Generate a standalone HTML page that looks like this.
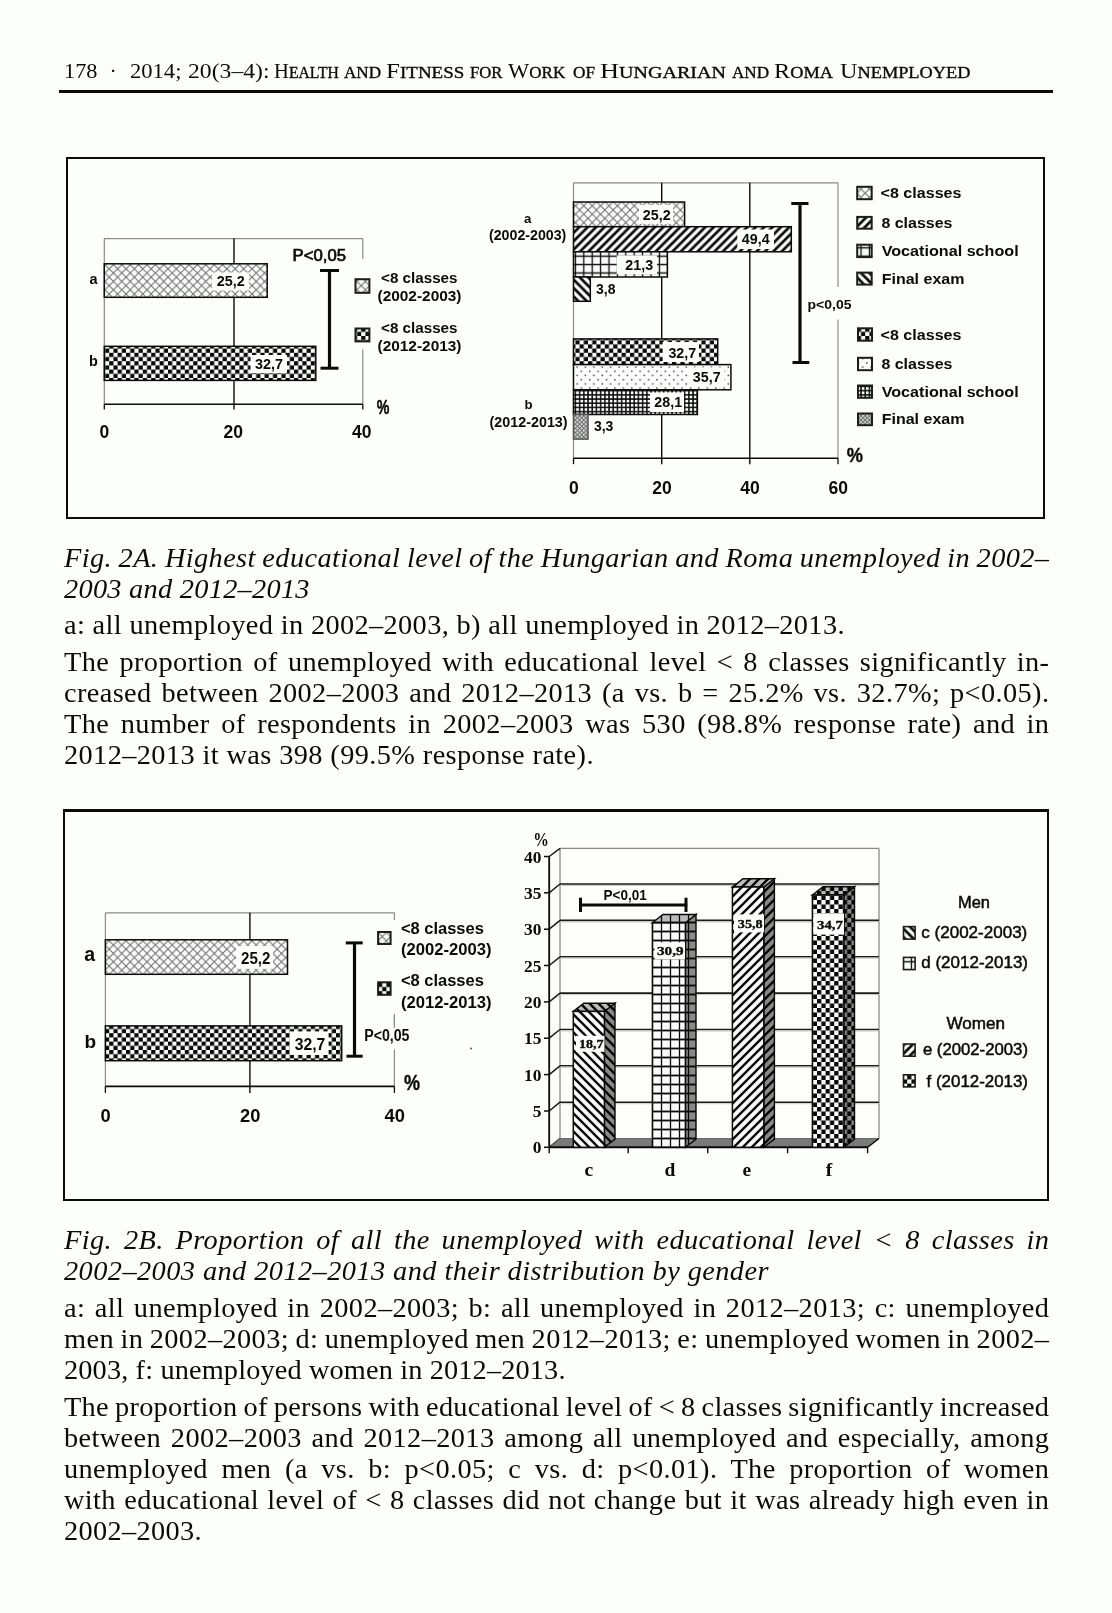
<!DOCTYPE html>
<html lang="en"><head><meta charset="utf-8"><title>Health and Fitness for Work of Hungarian and Roma Unemployed</title>
<style>
html,body{margin:0;padding:0;background:#fdfffc;}
body{width:1112px;height:1613px;position:relative;overflow:hidden;font-family:"Liberation Serif","Times New Roman",serif;color:#0a0a0a;}
.ln{position:absolute;left:63.5px;height:32px;line-height:32px;font-size:27px;white-space:nowrap;letter-spacing:0.36px;margin:0;transform:scaleX(1.05);transform-origin:0 0;}
.j{width:985.0px;white-space:normal;text-align:justify;text-align-last:justify;letter-spacing:0.36px;}
.i{font-style:italic;}
.hd{position:absolute;left:0;top:58px;height:26px;line-height:26px;font-size:21.6px;white-space:nowrap;width:1112px}
.hd span{position:absolute;top:0;transform-origin:0 0;white-space:pre}
.hd small{font-size:16.4px;-webkit-text-stroke:0.35px #0a0a0a}
.rule{position:absolute;left:59px;top:90px;width:994px;height:3px;background:#0a0a0a}
.fr{position:absolute;box-sizing:border-box;border:2px solid #0a0a0a}
svg{position:absolute;left:0;top:0;will-change:transform}
.ln,.hd{will-change:transform}
svg text{font-family:"Liberation Sans",Arial,sans-serif;font-weight:bold;fill:#0a0a0a}
svg text.s{font-family:"Liberation Serif","Times New Roman",serif;font-weight:bold}
svg text.r{font-weight:normal;stroke:#0a0a0a;stroke-width:0.5px}

</style></head><body>
<div class="hd"><span style="left:64.3px;transform:scaleX(1.031)">178</span> <span style="left:109.5px;transform:scaleX(1.000)">·</span> <span style="left:129.5px;transform:scaleX(1.045)">2014;</span> <span style="left:188.0px;transform:scaleX(1.096)">20(3–4):</span> <span style="left:273.5px;transform:scaleX(0.955)">H<small>EALTH</small></span> <span style="left:344.0px;transform:scaleX(1.042)"><small>AND</small></span> <span style="left:385.8px;transform:scaleX(1.160)">F<small>ITNESS</small></span> <span style="left:469.9px;transform:scaleX(1.019)"><small>FOR</small></span> <span style="left:508.4px;transform:scaleX(1.040)">W<small>ORK</small></span> <span style="left:572.7px;transform:scaleX(1.055)"><small>OF</small></span> <span style="left:599.7px;transform:scaleX(1.223)">H<small>UNGARIAN</small></span> <span style="left:732.3px;transform:scaleX(1.042)"><small>AND</small></span> <span style="left:774.1px;transform:scaleX(1.120)">R<small>OMA</small></span> <span style="left:840.2px;transform:scaleX(1.118)">U<small>NEMPLOYED</small></span></div>
<div class="rule"></div>
<div class="fr" style="left:66px;top:157px;width:979px;height:361.7px"></div>
<div class="fr" style="left:63px;top:809px;width:986px;height:392px;border-top-width:3px"></div>
<p class="ln i" style="top:541.89px;letter-spacing:0.360px;word-spacing:-0.809px;">Fig. 2A. Highest educational level of the Hungarian and Roma unemployed in 2002–</p>
<p class="ln i" style="top:572.89px;letter-spacing:0.254px;">2003 and 2012–2013</p>
<p class="ln" style="top:608.89px;letter-spacing:0.342px;">a: all unemployed in 2002–2003, b) all unemployed in 2012–2013.</p>
<p class="ln" style="top:645.89px;letter-spacing:0.360px;word-spacing:2.685px;">The proportion of unemployed with educational level &lt; 8 classes significantly in-</p>
<p class="ln" style="top:676.89px;letter-spacing:0.360px;word-spacing:2.275px;">creased between 2002–2003 and 2012–2013 (a vs. b = 25.2% vs. 32.7%; p&lt;0.05).</p>
<p class="ln" style="top:707.89px;letter-spacing:0.360px;word-spacing:3.908px;">The number of respondents in 2002–2003 was 530 (98.8% response rate) and in</p>
<p class="ln" style="top:738.89px;letter-spacing:0.366px;">2012–2013 it was 398 (99.5% response rate).</p>
<p class="ln i" style="top:1223.89px;letter-spacing:0.360px;word-spacing:4.244px;">Fig. 2B. Proportion of all the unemployed with educational level &lt; 8 classes in</p>
<p class="ln i" style="top:1254.89px;letter-spacing:0.404px;">2002–2003 and 2012–2013 and their distribution by gender</p>
<p class="ln" style="top:1291.69px;letter-spacing:0.360px;word-spacing:2.010px;">a: all unemployed in 2002–2003; b: all unemployed in 2012–2013; c: unemployed</p>
<p class="ln" style="top:1322.79px;letter-spacing:0.360px;word-spacing:-0.926px;">men in 2002–2003; d: unemployed men 2012–2013; e: unemployed women in 2002–</p>
<p class="ln" style="top:1353.59px;letter-spacing:0.116px;">2003, f: unemployed women in 2012–2013.</p>
<p class="ln" style="top:1390.79px;letter-spacing:0.262px;word-spacing:-1.200px;">The proportion of persons with educational level of &lt; 8 classes significantly increased</p>
<p class="ln" style="top:1421.79px;letter-spacing:0.360px;word-spacing:2.196px;">between 2002–2003 and 2012–2013 among all unemployed and especially, among</p>
<p class="ln" style="top:1452.69px;letter-spacing:0.360px;word-spacing:5.767px;">unemployed men (a vs. b: p&lt;0.05; c vs. d: p&lt;0.01). The proportion of women</p>
<p class="ln" style="top:1483.69px;letter-spacing:0.360px;word-spacing:0.796px;">with educational level of &lt; 8 classes did not change but it was already high even in</p>
<p class="ln" style="top:1514.59px;letter-spacing:0.300px;">2002–2003.</p>
<svg width="1112" height="1613" viewBox="0 0 1112 1613">
<defs>
<pattern id="xh" width="8.4" height="8.4" patternUnits="userSpaceOnUse"><rect width="8.4" height="8.4" fill="#fbfbfb"/><path d="M0,0L8.4,8.4M8.4,0L0,8.4" stroke="#6a6a6a" stroke-width="1.0" fill="none"/></pattern>
<pattern id="ck" width="8.4" height="8.4" patternUnits="userSpaceOnUse"><rect width="8.4" height="8.4" fill="#fafafa"/><rect width="4.2" height="4.2" fill="#0a0a0a"/><rect x="4.2" y="4.2" width="4.2" height="4.2" fill="#0a0a0a"/></pattern>
<pattern id="up" width="8.4" height="8.4" patternUnits="userSpaceOnUse"><rect width="8.4" height="8.4" fill="#fafafa"/><path d="M-4.2,4.2L4.2,-4.2M0,8.4L8.4,0M4.2,12.600000000000001L12.600000000000001,4.2" stroke="#0a0a0a" stroke-width="2.7" fill="none"/></pattern>
<pattern id="dn" width="8.4" height="8.4" patternUnits="userSpaceOnUse"><rect width="8.4" height="8.4" fill="#fafafa"/><path d="M-4.2,4.2L4.2,12.600000000000001M0,0L8.4,8.4M4.2,-4.2L12.600000000000001,4.2" stroke="#0a0a0a" stroke-width="2.7" fill="none"/></pattern>
<pattern id="gr" width="8.4" height="8.4" patternUnits="userSpaceOnUse"><rect width="8.4" height="8.4" fill="#fafafa"/><path d="M0,4.2H8.4M4.2,0V8.4" stroke="#0a0a0a" stroke-width="1.3" fill="none"/></pattern>
<pattern id="dt" width="8.4" height="8.4" patternUnits="userSpaceOnUse"><rect width="8.4" height="8.4" fill="#fcfcfc"/><rect x="1" y="1" width="1.4" height="1.4" fill="#333"/><rect x="5.2" y="5.2" width="1.4" height="1.4" fill="#333"/></pattern>
<pattern id="sg" width="4.2" height="4.2" patternUnits="userSpaceOnUse"><rect width="4.2" height="4.2" fill="#0a0a0a"/><rect x="0.8" y="0.8" width="2.7" height="2.7" fill="#fafafa"/></pattern>
<pattern id="fx" width="4.2" height="4.2" patternUnits="userSpaceOnUse"><rect width="4.2" height="4.2" fill="#e4e4e4"/><path d="M0,0L4.2,4.2M4.2,0L0,4.2" stroke="#606060" stroke-width="1.0" fill="none"/></pattern>
<pattern id="ck4" width="8.6" height="9" patternUnits="userSpaceOnUse"><rect width="8.6" height="9" fill="#fafafa"/><rect width="4.3" height="4.5" fill="#0a0a0a"/><rect x="4.3" y="4.5" width="4.3" height="4.5" fill="#0a0a0a"/></pattern>
<pattern id="up4" width="9.0" height="9.0" patternUnits="userSpaceOnUse"><rect width="9.0" height="9.0" fill="#fafafa"/><path d="M-4.5,4.5L4.5,-4.5M0,9.0L9.0,0M4.5,13.5L13.5,4.5" stroke="#0a0a0a" stroke-width="2.4" fill="none"/></pattern>
<pattern id="dn4" width="9.0" height="9.0" patternUnits="userSpaceOnUse"><rect width="9.0" height="9.0" fill="#fafafa"/><path d="M-4.5,4.5L4.5,13.5M0,0L9.0,9.0M4.5,-4.5L13.5,4.5" stroke="#0a0a0a" stroke-width="2.4" fill="none"/></pattern>
<pattern id="gr4" width="9.0" height="9.0" patternUnits="userSpaceOnUse"><rect width="9.0" height="9.0" fill="#fafafa"/><path d="M0,4.5H9.0" stroke="#0a0a0a" stroke-width="1.8" fill="none"/><path d="M4.5,0V9.0" stroke="#0a0a0a" stroke-width="1.3" fill="none"/></pattern>
</defs>
<path d="M104.3,238.6L362.8,238.6" stroke="#8a8a8a" stroke-width="1.2" fill="none"/>
<path d="M104.3,238.6L104.3,404.3" stroke="#8a8a8a" stroke-width="1.2" fill="none"/>
<path d="M362.8,238.6L362.8,404.3" stroke="#8a8a8a" stroke-width="1.2" fill="none"/>
<path d="M234.0,238.6L234.0,409.6" stroke="#0a0a0a" stroke-width="1.4" fill="none"/>
<path d="M104.3,404.3L362.8,404.3" stroke="#0a0a0a" stroke-width="1.5" fill="none"/>
<path d="M104.3,404.3L104.3,409.6" stroke="#0a0a0a" stroke-width="1.3" fill="none"/>
<path d="M362.8,404.3L362.8,409.6" stroke="#0a0a0a" stroke-width="1.3" fill="none"/>
<rect x="104.3" y="263.8" width="162.9" height="33.5" fill="url(#xh)" stroke="#0a0a0a" stroke-width="1.5"/>
<rect x="104.3" y="346.3" width="211.5" height="34.1" fill="url(#ck)" stroke="#0a0a0a" stroke-width="1.5"/>
<rect x="212.0" y="272.5" width="37.0" height="18.0" fill="#fdfffc"/>
<text x="216.7" y="286.0" font-size="15.3" textLength="28.0" lengthAdjust="spacingAndGlyphs">25,2</text>
<rect x="250.5" y="355.0" width="36.5" height="18.0" fill="#fdfffc"/>
<text x="255.0" y="368.7" font-size="15.3" textLength="28.0" lengthAdjust="spacingAndGlyphs">32,7</text>
<text x="93.5" y="284.2" font-size="14.5" text-anchor="middle">a</text>
<text x="93.5" y="365.8" font-size="14.5" text-anchor="middle">b</text>
<rect x="350.0" y="259.0" width="120.0" height="90.5" fill="#fdfffc"/>
<text x="292.6" y="260.8" font-size="16.3" textLength="53.4" lengthAdjust="spacingAndGlyphs" class="r" style="stroke-width:0.7px">P&lt;0,05</text>
<path d="M329.5,270.5L329.5,368.2" stroke="#0a0a0a" stroke-width="3.2" fill="none"/>
<path d="M320.0,270.5L339.0,270.5" stroke="#0a0a0a" stroke-width="3" fill="none"/>
<path d="M320.5,368.2L338.5,368.2" stroke="#0a0a0a" stroke-width="3" fill="none"/>
<rect x="355.5" y="279.2" width="13.9" height="13.6" fill="url(#xh)" stroke="#1c1c1c" stroke-width="2.0"/>
<rect x="355.5" y="328.5" width="13.9" height="12.9" fill="url(#ck)" stroke="#1c1c1c" stroke-width="2.0"/>
<text x="381.0" y="283.0" font-size="14.2" textLength="76.5" lengthAdjust="spacingAndGlyphs">&lt;8 classes</text>
<text x="377.5" y="301.0" font-size="14.2" textLength="84.0" lengthAdjust="spacingAndGlyphs">(2002-2003)</text>
<text x="381.0" y="333.4" font-size="14.2" textLength="76.5" lengthAdjust="spacingAndGlyphs">&lt;8 classes</text>
<text x="377.5" y="351.4" font-size="14.2" textLength="84.0" lengthAdjust="spacingAndGlyphs">(2012-2013)</text>
<text x="376.8" y="414.0" font-size="19.5" textLength="12.6" lengthAdjust="spacingAndGlyphs" stroke="#0a0a0a" stroke-width="0.5">%</text>
<text x="104.3" y="437.6" font-size="17.5" text-anchor="middle">0</text>
<text x="233.3" y="437.6" font-size="17.5" text-anchor="middle">20</text>
<text x="361.8" y="437.6" font-size="17.5" text-anchor="middle">40</text>
<path d="M573.5,182.8L838.0,182.8" stroke="#8a8a8a" stroke-width="1.2" fill="none"/>
<path d="M573.5,182.8L573.5,458.2" stroke="#8a8a8a" stroke-width="1.2" fill="none"/>
<path d="M838.0,182.8L838.0,458.2" stroke="#8a8a8a" stroke-width="1.2" fill="none"/>
<path d="M661.7,182.8L661.7,464.2" stroke="#0a0a0a" stroke-width="1.4" fill="none"/>
<path d="M749.8,182.8L749.8,464.2" stroke="#0a0a0a" stroke-width="1.4" fill="none"/>
<path d="M573.5,458.2L838.0,458.2" stroke="#0a0a0a" stroke-width="1.5" fill="none"/>
<path d="M573.5,458.2L573.5,464.2" stroke="#0a0a0a" stroke-width="1.3" fill="none"/>
<path d="M838.0,458.2L838.0,464.2" stroke="#0a0a0a" stroke-width="1.3" fill="none"/>
<rect x="573.5" y="202.0" width="111.1" height="24.7" fill="url(#xh)" stroke="#0a0a0a" stroke-width="1.5"/>
<rect x="573.5" y="226.7" width="217.8" height="25.1" fill="url(#up)" stroke="#0a0a0a" stroke-width="1.5"/>
<rect x="573.5" y="251.8" width="93.9" height="25.2" fill="url(#gr)" stroke="#0a0a0a" stroke-width="1.5"/>
<rect x="573.5" y="277.0" width="16.8" height="24.3" fill="url(#dn)" stroke="#0a0a0a" stroke-width="1.5"/>
<rect x="573.5" y="338.9" width="144.2" height="25.7" fill="url(#ck)" stroke="#0a0a0a" stroke-width="1.5"/>
<rect x="573.5" y="364.6" width="157.4" height="25.2" fill="url(#dt)" stroke="#0a0a0a" stroke-width="1.5"/>
<rect x="573.5" y="389.8" width="123.9" height="24.7" fill="url(#sg)" stroke="#0a0a0a" stroke-width="1.5"/>
<rect x="573.5" y="414.5" width="14.5" height="24.6" fill="url(#fx)" stroke="#555" stroke-width="1.5"/>
<rect x="639.0" y="205.0" width="34.0" height="18.8" fill="#fdfffc"/>
<text x="642.8" y="219.5" font-size="15.0" textLength="27.8" lengthAdjust="spacingAndGlyphs">25,2</text>
<rect x="737.3" y="229.5" width="36.7" height="19.5" fill="#fdfffc"/>
<text x="741.8" y="244.0" font-size="15.0" textLength="27.8" lengthAdjust="spacingAndGlyphs">49,4</text>
<rect x="616.7" y="255.4" width="40.3" height="18.9" fill="#fdfffc"/>
<text x="625.3" y="270.4" font-size="15.0" textLength="27.8" lengthAdjust="spacingAndGlyphs">21,3</text>
<text x="596.0" y="293.7" font-size="15.0" textLength="19.5" lengthAdjust="spacingAndGlyphs">3,8</text>
<rect x="662.6" y="342.0" width="36.4" height="20.0" fill="#fdfffc"/>
<text x="668.4" y="357.8" font-size="15.0" textLength="27.8" lengthAdjust="spacingAndGlyphs">32,7</text>
<rect x="688.0" y="367.5" width="36.5" height="19.5" fill="#fdfffc"/>
<text x="692.8" y="381.7" font-size="15.0" textLength="27.8" lengthAdjust="spacingAndGlyphs">35,7</text>
<rect x="650.0" y="392.5" width="34.0" height="19.5" fill="#fdfffc"/>
<text x="654.3" y="406.9" font-size="15.0" textLength="27.8" lengthAdjust="spacingAndGlyphs">28,1</text>
<text x="593.9" y="430.8" font-size="15.0" textLength="19.5" lengthAdjust="spacingAndGlyphs">3,3</text>
<text x="527.7" y="222.7" font-size="13.2" text-anchor="middle">a</text>
<text x="489.0" y="239.8" font-size="14.2" textLength="77.3" lengthAdjust="spacingAndGlyphs">(2002-2003)</text>
<text x="528.6" y="408.9" font-size="13.2" text-anchor="middle">b</text>
<text x="489.6" y="426.5" font-size="14.2" textLength="78.0" lengthAdjust="spacingAndGlyphs">(2012-2013)</text>
<rect x="803.0" y="287.0" width="53.0" height="32.5" fill="#fdfffc"/>
<path d="M800.0,203.5L800.0,362.5" stroke="#0a0a0a" stroke-width="3.2" fill="none"/>
<path d="M791.3,203.5L808.5,203.5" stroke="#0a0a0a" stroke-width="3" fill="none"/>
<path d="M792.5,362.5L809.3,362.5" stroke="#0a0a0a" stroke-width="3" fill="none"/>
<text x="807.5" y="308.5" font-size="13.2" textLength="44.0" lengthAdjust="spacingAndGlyphs">p&lt;0,05</text>
<rect x="857.2" y="186.8" width="14.5" height="12.4" fill="url(#xh)" stroke="#1c1c1c" stroke-width="2.0"/>
<rect x="857.2" y="216.9" width="14.5" height="11.8" fill="url(#up)" stroke="#1c1c1c" stroke-width="2.0"/>
<rect x="857.2" y="244.7" width="14.5" height="12.4" fill="url(#gr)" stroke="#1c1c1c" stroke-width="2.0"/>
<rect x="857.2" y="272.6" width="14.5" height="12.0" fill="url(#dn)" stroke="#1c1c1c" stroke-width="2.0"/>
<rect x="858.0" y="328.3" width="14.0" height="12.4" fill="url(#ck)" stroke="#1c1c1c" stroke-width="2.0"/>
<rect x="858.0" y="357.8" width="14.0" height="12.4" fill="url(#dt)" stroke="#1c1c1c" stroke-width="2.0"/>
<rect x="858.0" y="385.5" width="14.0" height="12.3" fill="url(#sg)" stroke="#1c1c1c" stroke-width="2.0"/>
<rect x="858.0" y="413.5" width="14.0" height="11.7" fill="url(#fx)" stroke="#1c1c1c" stroke-width="2.0"/>
<text x="880.5" y="198.4" font-size="15.3" textLength="81.0" lengthAdjust="spacingAndGlyphs">&lt;8 classes</text>
<text x="881.4" y="228.0" font-size="15.3" textLength="71.0" lengthAdjust="spacingAndGlyphs">8 classes</text>
<text x="881.7" y="256.0" font-size="15.3" textLength="137.0" lengthAdjust="spacingAndGlyphs">Vocational school</text>
<text x="881.7" y="283.8" font-size="15.3" textLength="82.8" lengthAdjust="spacingAndGlyphs">Final exam</text>
<text x="880.5" y="339.5" font-size="15.3" textLength="81.0" lengthAdjust="spacingAndGlyphs">&lt;8 classes</text>
<text x="881.4" y="368.6" font-size="15.3" textLength="71.0" lengthAdjust="spacingAndGlyphs">8 classes</text>
<text x="881.7" y="397.0" font-size="15.3" textLength="137.0" lengthAdjust="spacingAndGlyphs">Vocational school</text>
<text x="881.7" y="424.4" font-size="15.3" textLength="82.8" lengthAdjust="spacingAndGlyphs">Final exam</text>
<text x="846.8" y="462.0" font-size="20.5" textLength="16.2" lengthAdjust="spacingAndGlyphs" stroke="#0a0a0a" stroke-width="0.4">%</text>
<text x="573.8" y="494.0" font-size="17.5" text-anchor="middle">0</text>
<text x="662.0" y="494.0" font-size="17.5" text-anchor="middle">20</text>
<text x="750.1" y="494.0" font-size="17.5" text-anchor="middle">40</text>
<text x="838.3" y="494.0" font-size="17.5" text-anchor="middle">60</text>
<path d="M105.4,912.8L394.4,912.8" stroke="#8a8a8a" stroke-width="1.2" fill="none"/>
<path d="M105.4,912.8L105.4,1086.4" stroke="#8a8a8a" stroke-width="1.2" fill="none"/>
<path d="M394.4,912.8L394.4,1086.4" stroke="#8a8a8a" stroke-width="1.2" fill="none"/>
<path d="M249.9,912.8L249.9,1092.9" stroke="#0a0a0a" stroke-width="1.4" fill="none"/>
<path d="M105.4,1086.4L394.4,1086.4" stroke="#0a0a0a" stroke-width="1.6" fill="none"/>
<path d="M105.4,1086.4L105.4,1092.9" stroke="#0a0a0a" stroke-width="1.3" fill="none"/>
<path d="M394.4,1086.4L394.4,1092.9" stroke="#0a0a0a" stroke-width="1.3" fill="none"/>
<rect x="105.4" y="939.8" width="182.1" height="34.5" fill="url(#xh)" stroke="#0a0a0a" stroke-width="1.5"/>
<rect x="105.4" y="1025.9" width="236.3" height="34.8" fill="url(#ck)" stroke="#0a0a0a" stroke-width="1.5"/>
<rect x="235.9" y="946.0" width="37.1" height="22.8" fill="#fdfffc"/>
<text x="241.0" y="963.5" font-size="16.6" textLength="29.4" lengthAdjust="spacingAndGlyphs">25,2</text>
<rect x="289.7" y="1031.4" width="38.9" height="23.6" fill="#fdfffc"/>
<text x="294.7" y="1049.5" font-size="16.6" textLength="30.6" lengthAdjust="spacingAndGlyphs">32,7</text>
<text x="89.8" y="961.2" font-size="19.5" text-anchor="middle">a</text>
<text x="90.3" y="1048.0" font-size="19" text-anchor="middle">b</text>
<rect x="372.0" y="920.0" width="128.0" height="94.0" fill="#fdfffc"/>
<rect x="360.0" y="1026.0" width="55.0" height="23.5" fill="#fdfffc"/>
<path d="M394.4,1016.0L394.4,1028.0" stroke="#8a8a8a" stroke-width="1.2" fill="none"/>
<path d="M354.5,942.9L354.5,1056.2" stroke="#0a0a0a" stroke-width="3.2" fill="none"/>
<path d="M345.8,942.9L362.7,942.9" stroke="#0a0a0a" stroke-width="3" fill="none"/>
<path d="M346.5,1056.2L362.7,1056.2" stroke="#0a0a0a" stroke-width="3" fill="none"/>
<rect x="378.1" y="932.0" width="12.5" height="12.0" fill="url(#xh)" stroke="#1c1c1c" stroke-width="2.0"/>
<rect x="378.1" y="982.3" width="12.5" height="12.5" fill="url(#ck)" stroke="#1c1c1c" stroke-width="2.0"/>
<text x="400.9" y="933.8" font-size="15.8" textLength="83.0" lengthAdjust="spacingAndGlyphs">&lt;8 classes</text>
<text x="400.9" y="954.8" font-size="15.8" textLength="90.6" lengthAdjust="spacingAndGlyphs">(2002-2003)</text>
<text x="400.9" y="986.0" font-size="15.8" textLength="83.0" lengthAdjust="spacingAndGlyphs">&lt;8 classes</text>
<text x="400.9" y="1007.6" font-size="15.8" textLength="90.6" lengthAdjust="spacingAndGlyphs">(2012-2013)</text>
<text x="364.2" y="1040.6" font-size="15.6" textLength="45.3" lengthAdjust="spacingAndGlyphs">P&lt;0,05</text>
<text x="404.0" y="1090.0" font-size="21.5" textLength="16.0" lengthAdjust="spacingAndGlyphs" stroke="#0a0a0a" stroke-width="0.4">%</text>
<text x="105.7" y="1122.3" font-size="18.3" text-anchor="middle">0</text>
<text x="250.2" y="1122.3" font-size="18.3" text-anchor="middle">20</text>
<text x="394.7" y="1122.3" font-size="18.3" text-anchor="middle">40</text>
<circle cx="471" cy="1048.6" r="1" fill="#555"/>
<rect x="560.0" y="848.4" width="319.0" height="290.1" fill="#fdfdfb"/>
<path d="M560.0,848.4L879.0,848.4" stroke="#8a8a8a" stroke-width="1.3" fill="none"/>
<path d="M879.0,848.4L879.0,1138.5" stroke="#8a8a8a" stroke-width="1.3" fill="none"/>
<path d="M560.0,848.4L560.0,1138.5" stroke="#8a8a8a" stroke-width="1.3" fill="none"/>
<path d="M560.0,1102.2L879.0,1102.2" stroke="#1a1a1a" stroke-width="1.6" fill="none"/>
<path d="M560.0,1103.7L879.0,1103.7" stroke="#c8c8c8" stroke-width="1.0" fill="none"/>
<path d="M560.0,1065.8L879.0,1065.8" stroke="#1a1a1a" stroke-width="1.6" fill="none"/>
<path d="M560.0,1067.3L879.0,1067.3" stroke="#c8c8c8" stroke-width="1.0" fill="none"/>
<path d="M560.0,1029.5L879.0,1029.5" stroke="#1a1a1a" stroke-width="1.6" fill="none"/>
<path d="M560.0,1031.0L879.0,1031.0" stroke="#c8c8c8" stroke-width="1.0" fill="none"/>
<path d="M560.0,993.1L879.0,993.1" stroke="#1a1a1a" stroke-width="1.6" fill="none"/>
<path d="M560.0,994.6L879.0,994.6" stroke="#c8c8c8" stroke-width="1.0" fill="none"/>
<path d="M560.0,956.8L879.0,956.8" stroke="#1a1a1a" stroke-width="1.6" fill="none"/>
<path d="M560.0,958.2L879.0,958.2" stroke="#c8c8c8" stroke-width="1.0" fill="none"/>
<path d="M560.0,920.4L879.0,920.4" stroke="#1a1a1a" stroke-width="1.6" fill="none"/>
<path d="M560.0,921.9L879.0,921.9" stroke="#c8c8c8" stroke-width="1.0" fill="none"/>
<path d="M560.0,884.0L879.0,884.0" stroke="#1a1a1a" stroke-width="1.6" fill="none"/>
<path d="M560.0,885.5L879.0,885.5" stroke="#c8c8c8" stroke-width="1.0" fill="none"/>
<path d="M549.2,1147.3L560.0,1138.5" stroke="#1a1a1a" stroke-width="1.5" fill="none"/>
<path d="M544.0,1147.3L549.2,1147.3" stroke="#0a0a0a" stroke-width="1.5" fill="none"/>
<path d="M549.2,1111.0L560.0,1102.2" stroke="#1a1a1a" stroke-width="1.5" fill="none"/>
<path d="M544.0,1111.0L549.2,1111.0" stroke="#0a0a0a" stroke-width="1.5" fill="none"/>
<path d="M549.2,1074.6L560.0,1065.8" stroke="#1a1a1a" stroke-width="1.5" fill="none"/>
<path d="M544.0,1074.6L549.2,1074.6" stroke="#0a0a0a" stroke-width="1.5" fill="none"/>
<path d="M549.2,1038.2L560.0,1029.5" stroke="#1a1a1a" stroke-width="1.5" fill="none"/>
<path d="M544.0,1038.2L549.2,1038.2" stroke="#0a0a0a" stroke-width="1.5" fill="none"/>
<path d="M549.2,1001.9L560.0,993.1" stroke="#1a1a1a" stroke-width="1.5" fill="none"/>
<path d="M544.0,1001.9L549.2,1001.9" stroke="#0a0a0a" stroke-width="1.5" fill="none"/>
<path d="M549.2,965.5L560.0,956.8" stroke="#1a1a1a" stroke-width="1.5" fill="none"/>
<path d="M544.0,965.5L549.2,965.5" stroke="#0a0a0a" stroke-width="1.5" fill="none"/>
<path d="M549.2,929.2L560.0,920.4" stroke="#1a1a1a" stroke-width="1.5" fill="none"/>
<path d="M544.0,929.2L549.2,929.2" stroke="#0a0a0a" stroke-width="1.5" fill="none"/>
<path d="M549.2,892.8L560.0,884.0" stroke="#1a1a1a" stroke-width="1.5" fill="none"/>
<path d="M544.0,892.8L549.2,892.8" stroke="#0a0a0a" stroke-width="1.5" fill="none"/>
<path d="M549.2,856.5L560.0,848.4" stroke="#1a1a1a" stroke-width="1.5" fill="none"/>
<path d="M544.0,856.5L549.2,856.5" stroke="#0a0a0a" stroke-width="1.5" fill="none"/>
<path d="M549.2,1147.3L560.0,1138.5L879.0,1138.5L867.6,1147.3Z" fill="#7a7a7a" stroke="#555" stroke-width="0.8"/>
<path d="M549.2,856.5L549.2,1147.3" stroke="#0a0a0a" stroke-width="1.8" fill="none"/>
<path d="M549.2,1147.3L867.6,1147.3" stroke="#0a0a0a" stroke-width="2" fill="none"/>
<path d="M549.2,1147.3L549.2,1153.3" stroke="#0a0a0a" stroke-width="1.4" fill="none"/>
<path d="M628.2,1147.3L628.2,1153.3" stroke="#0a0a0a" stroke-width="1.4" fill="none"/>
<path d="M707.7,1147.3L707.7,1153.3" stroke="#0a0a0a" stroke-width="1.4" fill="none"/>
<path d="M787.6,1147.3L787.6,1153.3" stroke="#0a0a0a" stroke-width="1.4" fill="none"/>
<path d="M867.6,1147.3L867.6,1153.3" stroke="#0a0a0a" stroke-width="1.4" fill="none"/>
<path d="M867.6,1147.3L879.0,1138.5" stroke="#0a0a0a" stroke-width="1.3" fill="none"/>
<text x="541.4" y="1153.3" font-size="17.4" text-anchor="end" class="s">0</text>
<text x="541.4" y="1117.0" font-size="17.4" text-anchor="end" class="s">5</text>
<text x="541.4" y="1080.6" font-size="17.4" text-anchor="end" class="s">10</text>
<text x="541.4" y="1044.2" font-size="17.4" text-anchor="end" class="s">15</text>
<text x="541.4" y="1007.9" font-size="17.4" text-anchor="end" class="s">20</text>
<text x="541.4" y="971.5" font-size="17.4" text-anchor="end" class="s">25</text>
<text x="541.4" y="935.2" font-size="17.4" text-anchor="end" class="s">30</text>
<text x="541.4" y="898.8" font-size="17.4" text-anchor="end" class="s">35</text>
<text x="541.4" y="862.5" font-size="17.4" text-anchor="end" class="s">40</text>
<text x="533.3" y="845.6" font-size="18" textLength="15.6" lengthAdjust="spacingAndGlyphs" class="s">%</text>
<path d="M604.4,1147.3L615.0,1139.1L615.0,1003.2L604.4,1011.4Z" fill="url(#dn4)" stroke="#0a0a0a" stroke-width="1.4"/>
<path d="M604.4,1147.3L615.0,1139.1L615.0,1003.2L604.4,1011.4Z" fill="#000" fill-opacity="0.45" stroke="none"/>
<path d="M573.3,1011.4L583.9,1003.2L615.0,1003.2L604.4,1011.4Z" fill="url(#dn4)" stroke="#0a0a0a" stroke-width="1.4"/>
<path d="M573.3,1011.4L583.9,1003.2L615.0,1003.2L604.4,1011.4Z" fill="#000" fill-opacity="0.25" stroke="none"/>
<rect x="573.3" y="1011.4" width="31.1" height="135.9" fill="url(#dn4)" stroke="#0a0a0a" stroke-width="1.5"/>
<path d="M685.4,1147.3L696.0,1139.1L696.0,914.5L685.4,922.7Z" fill="url(#gr4)" stroke="#0a0a0a" stroke-width="1.4"/>
<path d="M685.4,1147.3L696.0,1139.1L696.0,914.5L685.4,922.7Z" fill="#000" fill-opacity="0.45" stroke="none"/>
<path d="M652.4,922.7L663.0,914.5L696.0,914.5L685.4,922.7Z" fill="url(#gr4)" stroke="#0a0a0a" stroke-width="1.4"/>
<path d="M652.4,922.7L663.0,914.5L696.0,914.5L685.4,922.7Z" fill="#000" fill-opacity="0.25" stroke="none"/>
<rect x="652.4" y="922.7" width="33.0" height="224.6" fill="url(#gr4)" stroke="#0a0a0a" stroke-width="1.5"/>
<path d="M763.8,1147.3L774.4,1139.1L774.4,878.8L763.8,887.0Z" fill="url(#up4)" stroke="#0a0a0a" stroke-width="1.4"/>
<path d="M763.8,1147.3L774.4,1139.1L774.4,878.8L763.8,887.0Z" fill="#000" fill-opacity="0.45" stroke="none"/>
<path d="M732.4,887.0L743.0,878.8L774.4,878.8L763.8,887.0Z" fill="url(#up4)" stroke="#0a0a0a" stroke-width="1.4"/>
<path d="M732.4,887.0L743.0,878.8L774.4,878.8L763.8,887.0Z" fill="#000" fill-opacity="0.25" stroke="none"/>
<rect x="732.4" y="887.0" width="31.4" height="260.3" fill="url(#up4)" stroke="#0a0a0a" stroke-width="1.5"/>
<path d="M843.9,1147.3L854.5,1139.1L854.5,886.8L843.9,895.0Z" fill="url(#ck4)" stroke="#0a0a0a" stroke-width="1.4"/>
<path d="M843.9,1147.3L854.5,1139.1L854.5,886.8L843.9,895.0Z" fill="#000" fill-opacity="0.45" stroke="none"/>
<path d="M812.4,895.0L823.0,886.8L854.5,886.8L843.9,895.0Z" fill="url(#ck4)" stroke="#0a0a0a" stroke-width="1.4"/>
<path d="M812.4,895.0L823.0,886.8L854.5,886.8L843.9,895.0Z" fill="#000" fill-opacity="0.25" stroke="none"/>
<rect x="812.4" y="895.0" width="31.5" height="252.3" fill="url(#ck4)" stroke="#0a0a0a" stroke-width="1.5"/>
<rect x="576.0" y="1035.8" width="28.5" height="16.0" fill="#fdfffc"/>
<text x="578.9" y="1048.3" font-size="13" textLength="24.6" lengthAdjust="spacingAndGlyphs" class="s" stroke="#0a0a0a" stroke-width="0.35">18,7</text>
<rect x="654.5" y="942.3" width="30.5" height="17.1" fill="#fdfffc"/>
<text x="657.0" y="955.3" font-size="13" textLength="26.6" lengthAdjust="spacingAndGlyphs" class="s" stroke="#0a0a0a" stroke-width="0.35">30,9</text>
<rect x="734.0" y="914.4" width="30.0" height="18.0" fill="#fdfffc"/>
<text x="737.8" y="928.0" font-size="13" textLength="24.8" lengthAdjust="spacingAndGlyphs" class="s" stroke="#0a0a0a" stroke-width="0.35">35,8</text>
<rect x="813.3" y="913.5" width="30.7" height="21.1" fill="#fdfffc"/>
<text x="817.0" y="929.4" font-size="13" textLength="26.0" lengthAdjust="spacingAndGlyphs" class="s" stroke="#0a0a0a" stroke-width="0.35">34,7</text>
<path d="M579.2,905.0L687.2,905.0" stroke="#0a0a0a" stroke-width="3.2" fill="none"/>
<path d="M580.5,897.7L580.5,912.0" stroke="#0a0a0a" stroke-width="3" fill="none"/>
<path d="M686.0,897.7L686.0,912.0" stroke="#0a0a0a" stroke-width="3" fill="none"/>
<text x="603.5" y="900.2" font-size="14.6" textLength="43.2" lengthAdjust="spacingAndGlyphs">P&lt;0,01</text>
<text x="588.8" y="1176.0" font-size="19.5" text-anchor="middle" class="s">c</text>
<text x="670.0" y="1176.0" font-size="19.5" text-anchor="middle" class="s">d</text>
<text x="746.8" y="1176.0" font-size="19.5" text-anchor="middle" class="s">e</text>
<text x="829.1" y="1176.0" font-size="19.5" text-anchor="middle" class="s">f</text>
<text x="958.0" y="908.0" font-size="16.8" textLength="32.0" lengthAdjust="spacingAndGlyphs" class="r">Men</text>
<text x="946.4" y="1028.6" font-size="16.8" textLength="58.6" lengthAdjust="spacingAndGlyphs" class="r">Women</text>
<rect x="903.5" y="926.6" width="11.6" height="12.5" fill="url(#dn)" stroke="#1c1c1c" stroke-width="1.6"/>
<rect x="903.5" y="957.4" width="11.6" height="12.2" fill="url(#gr)" stroke="#1c1c1c" stroke-width="1.6"/>
<rect x="903.5" y="1044.0" width="11.6" height="12.2" fill="url(#up)" stroke="#1c1c1c" stroke-width="1.6"/>
<rect x="903.5" y="1074.8" width="11.6" height="12.1" fill="url(#ck)" stroke="#1c1c1c" stroke-width="1.6"/>
<text x="921.3" y="938.0" font-size="16.8" textLength="106.0" lengthAdjust="spacingAndGlyphs" class="r">c (2002-2003)</text>
<text x="921.3" y="968.4" font-size="16.8" textLength="106.7" lengthAdjust="spacingAndGlyphs" class="r">d (2012-2013)</text>
<text x="922.9" y="1055.3" font-size="16.8" textLength="105.1" lengthAdjust="spacingAndGlyphs" class="r">e (2002-2003)</text>
<text x="926.6" y="1086.9" font-size="16.8" textLength="101.4" lengthAdjust="spacingAndGlyphs" class="r">f (2012-2013)</text>
</svg>
</body></html>
